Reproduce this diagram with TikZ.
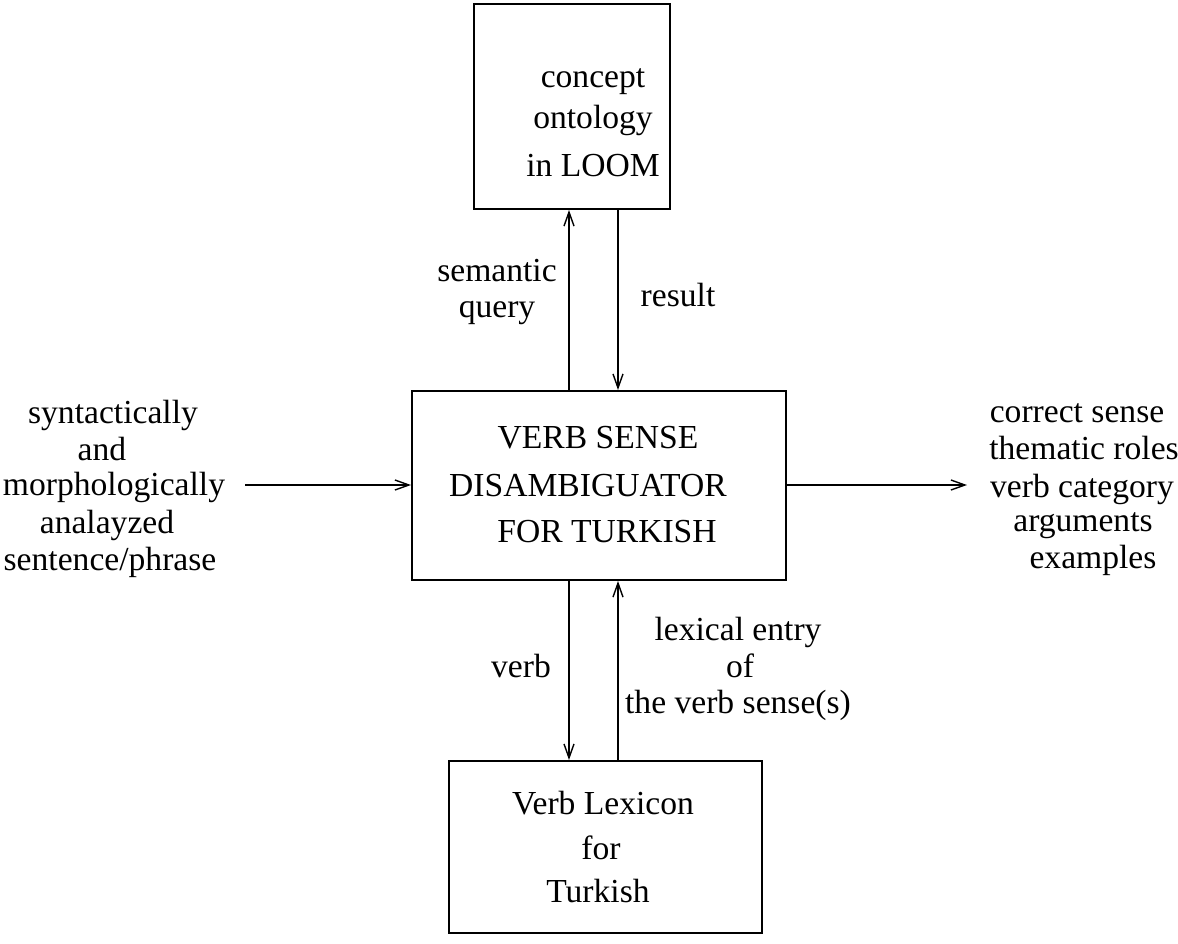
\documentclass[tikz,border=0pt]{standalone}
\usepackage{fontspec}
\setmainfont{Liberation Serif}
\usetikzlibrary{arrows.meta}
\begin{document}
\begin{tikzpicture}[x=0.5pt,y=-0.5pt,
  box/.style={draw, line width=1pt, inner sep=0pt},
  lbl/.style={inner sep=0pt, anchor=base, font=\fontsize{16.8}{18.5}\selectfont},
  conn/.style={line width=0.8pt, -{Straight Barb[length=7pt,width=5pt,line width=0.7pt]}}]
\useasboundingbox (0,0) rectangle (1178,943);
% boxes
\node[box, minimum width=196*0.5pt, minimum height=205*0.5pt] (top) at (572,106.5) {};
\node[box, minimum width=374*0.5pt, minimum height=189*0.5pt] (mid) at (599,485.5) {};
\node[box, minimum width=313*0.5pt, minimum height=172*0.5pt] (bot) at (605.5,847) {};
% column coordinates
\coordinate (qx) at (569,0);
\coordinate (rx) at (618,0);
\coordinate (inl) at (245,485);
\coordinate (outr) at (967,485);
% connectors
\draw[conn] (mid.north -| qx) -- (top.south -| qx);
\draw[conn] (top.south -| rx) -- (mid.north -| rx);
\draw[conn] (mid.south -| qx) -- (bot.north -| qx);
\draw[conn] (bot.north -| rx) -- (mid.south -| rx);
\draw[conn] (inl) -- (mid.west |- inl);
\draw[conn] (mid.east |- outr) -- (outr);
% top box text
\node[lbl] (t1) at (593,87) {concept};
\node[lbl] (t2) at (593,128) {ontology};
\node[lbl] (t3) at (593,176) {in LOOM};
% middle box text
\node[lbl] (m1) at (598,448) {VERB SENSE};
\node[lbl] (m2) at (588,496) {DISAMBIGUATOR};
\node[lbl] (m3) at (607,542) {FOR TURKISH};
% bottom box text
\node[lbl] (b1) at (603,814) {Verb Lexicon};
\node[lbl] (b2) at (601,859) {for};
\node[lbl] (b3) at (598,902) {Turkish};
% arrow labels
\node[lbl] (s1) at (497,281) {semantic};
\node[lbl] (s2) at (497,317) {query};
\node[lbl] (r1) at (678,306) {result};
\node[lbl] (v1) at (521,677) {verb};
\node[lbl] (l1) at (738,640) {lexical entry};
\node[lbl] (l2) at (740,677) {of};
\node[lbl] (l3) at (738,713) {the verb sense(s)};
% left text
\node[lbl] (a1) at (113,423) {syntactically};
\node[lbl] (a2) at (102,460) {and};
\node[lbl] (a3) at (114,495) {morphologically};
\node[lbl] (a4) at (107,533) {analayzed};
\node[lbl] (a5) at (110,570) {sentence/phrase};
% right text
\node[lbl] (c1) at (1077,422) {correct sense};
\node[lbl] (c2) at (1084,459) {thematic roles};
\node[lbl] (c3) at (1082,497) {verb category};
\node[lbl] (c4) at (1083,531) {arguments};
\node[lbl] (c5) at (1093,568) {examples};
\end{tikzpicture}
\end{document}
